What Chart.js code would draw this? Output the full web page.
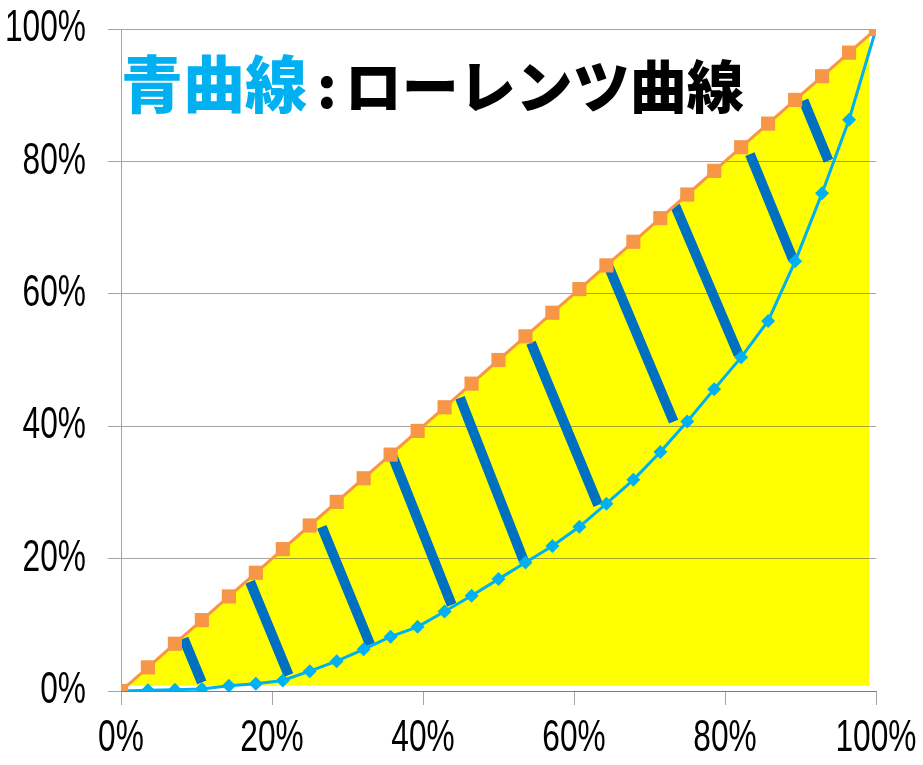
<!DOCTYPE html>
<html lang="ja">
<head>
<meta charset="utf-8">
<title>ローレンツ曲線</title>
<script src="https://cdn.jsdelivr.net/npm/chart.js@4/dist/chart.umd.min.js"></script>
<style>
  html, body { margin: 0; padding: 0; background: #ffffff; }
  #wrap { position: relative; width: 923px; height: 765px; }
  #chart { position: absolute; left: 0; top: 0; }
  #heading {
    position: absolute; left: 121px; top: 50px;
    font-family: "Noto Sans CJK JP", sans-serif; font-weight: 900;
    white-space: nowrap; line-height: 1;
  }
  #heading .blue { color: #00B0F0; font-size: 62px; }
  #heading .colon { color: #000000; font-size: 56px; margin: 0 8px 0 10px; }
  #heading .black { color: #000000; font-size: 57px; }
</style>
</head>
<body>
<div id="wrap">
  <canvas id="chart" width="923" height="765"></canvas>
  <div id="heading"><span class="blue">青曲線</span><span class="colon">:</span><span class="black">ローレンツ曲線</span></div>
</div>
<script>
// Cumulative share of population (%), equal steps of 1/28
const populationShare = [0, 3.57, 7.14, 10.71, 14.29, 17.86, 21.43, 25, 28.57, 32.14, 35.71, 39.29,
  42.86, 46.43, 50, 53.57, 57.14, 60.71, 64.29, 67.86, 71.43, 75, 78.57, 82.14, 85.71, 89.29, 92.86, 96.43, 100];

// Line of perfect equality (%)
const equalityShare = [0, 3.57, 7.14, 10.71, 14.29, 17.86, 21.43, 25, 28.57, 32.14, 35.71, 39.29,
  42.86, 46.43, 50, 53.57, 57.14, 60.71, 64.29, 67.86, 71.43, 75, 78.57, 82.14, 85.71, 89.29, 92.86, 96.43, 100];

// Lorenz curve: cumulative share of income (%)
const lorenzShare = [0, 0.1, 0.2, 0.3, 0.8, 1.1, 1.6, 3.0, 4.5, 6.3, 8.2, 9.7, 12.0, 14.4, 16.9,
  19.4, 21.9, 24.8, 28.3, 31.9, 36.1, 40.7, 45.6, 50.4, 55.9, 64.9, 75.2, 86.3, 100];

// Shaded region under the equality line (corner points, %)
const shadeX = [0.8, 99.1];
const shadeY = [0.8, 99.1];
const shadeBase = 0.8;

// Hatch strokes between the equality line and the Lorenz curve (%)
const hatchTopX = [8.3, 17.1, 26.6, 36.0, 44.9, 54.3, 64.3, 73.4, 83.3, 90.4];
const hatchTopY = [7.9, 16.5, 24.8, 35.4, 44.3, 52.6, 64.9, 73.3, 81.1, 89.2];
const hatchBotX = [10.7, 22.2, 33.0, 43.8, 53.3, 63.2, 73.2, 81.8, 89.0, 93.7];
const hatchBotY = [1.3, 2.4, 7.0, 13.0, 19.8, 28.1, 40.7, 50.8, 65.2, 80.1];

// Axis tick values (%)
const tickValues = [0, 20, 40, 60, 80, 100];
const tickLabels = ['0%', '20%', '40%', '60%', '80%', '100%'];

const toPoints = (xs, ys) => xs.map((x, i) => ({ x: x, y: ys[i] }));

const hatchPoints = [];
hatchTopX.forEach((x, i) => {
  hatchPoints.push({ x: x, y: hatchTopY[i] });
  hatchPoints.push({ x: hatchBotX[i], y: hatchBotY[i] });
  hatchPoints.push({ x: hatchBotX[i], y: null });
});

const gridColor = 'rgba(90,90,90,0.55)';

// Tick labels in a tall, condensed face: regular glyphs squeezed horizontally
const condensedTicks = {
  id: 'condensedTicks',
  afterDraw(chart) {
    const ctx = chart.ctx;
    const xs = chart.scales.x, ys = chart.scales.y;
    const squeeze = 0.72;
    ctx.save();
    ctx.font = '44px "Liberation Sans", Arial, sans-serif';
    ctx.fillStyle = '#000000';
    ctx.textBaseline = 'middle';
    tickValues.forEach((v, i) => {
      // y axis labels, right-aligned left of the tick marks
      ctx.save();
      ctx.textAlign = 'right';
      ctx.translate(ys.left + ys.width - 13 - 22, ys.getPixelForValue(v));
      ctx.scale(squeeze, 1);
      ctx.fillText(tickLabels[i], 0, 0);
      ctx.restore();
      // x axis labels, centred under the tick marks
      ctx.save();
      ctx.textAlign = 'center';
      ctx.translate(xs.getPixelForValue(v), xs.top + 48);
      ctx.scale(squeeze, 1);
      ctx.fillText(tickLabels[i], 0, 0);
      ctx.restore();
    });
    ctx.restore();
  }
};

new Chart(document.getElementById('chart'), {
  type: 'scatter',
  data: {
    datasets: [
      {
        label: '均等分布線',
        data: toPoints(populationShare, equalityShare),
        showLine: true,
        borderColor: '#F79646',
        backgroundColor: '#F79646',
        borderWidth: 3,
        pointStyle: 'rect',
        pointRadius: 10,
        pointBorderWidth: 0,
        order: 0
      },
      {
        label: 'ローレンツ曲線',
        data: toPoints(populationShare, lorenzShare),
        showLine: true,
        borderColor: '#00B0F0',
        backgroundColor: '#00B0F0',
        borderWidth: 3,
        pointStyle: 'rectRot',
        pointRadius: 7,
        pointBorderWidth: 0,
        order: 1
      },
      {
        label: '斜線',
        data: hatchPoints,
        showLine: true,
        spanGaps: false,
        borderColor: '#0070C0',
        borderWidth: 10,
        borderCapStyle: 'butt',
        pointRadius: 0,
        order: 2
      },
      {
        label: '面積',
        data: toPoints(shadeX, shadeY),
        showLine: true,
        borderWidth: 0,
        borderColor: 'rgba(0,0,0,0)',
        backgroundColor: '#FFFF00',
        fill: { value: shadeBase },
        pointRadius: 0,
        order: 3
      }
    ]
  },
  options: {
    responsive: false,
    animation: false,
    devicePixelRatio: 1,
    layout: { padding: { top: 29, right: 47, bottom: 0, left: 0 } },
    plugins: {
      legend: { display: false },
      tooltip: { enabled: false },
      filler: { drawTime: 'beforeDraw' }
    },
    scales: {
      x: {
        type: 'linear',
        min: 0, max: 100,
        afterBuildTicks: s => { s.ticks = tickValues.map(v => ({ value: v })); },
        afterFit: s => { s.height = 74; },
        ticks: { display: false },
        grid: { drawOnChartArea: false, drawTicks: true, tickLength: 14, color: gridColor },
        border: { display: true, color: gridColor, width: 1 }
      },
      y: {
        type: 'linear',
        min: 0, max: 100,
        afterBuildTicks: s => { s.ticks = tickValues.map(v => ({ value: v })); },
        afterFit: s => { s.width = 121; },
        ticks: { display: false },
        grid: { drawOnChartArea: true, drawTicks: true, tickLength: 13, color: gridColor },
        border: { display: true, color: gridColor, width: 1 }
      }
    }
  },
  plugins: [condensedTicks]
});
</script>
</body>
</html>
